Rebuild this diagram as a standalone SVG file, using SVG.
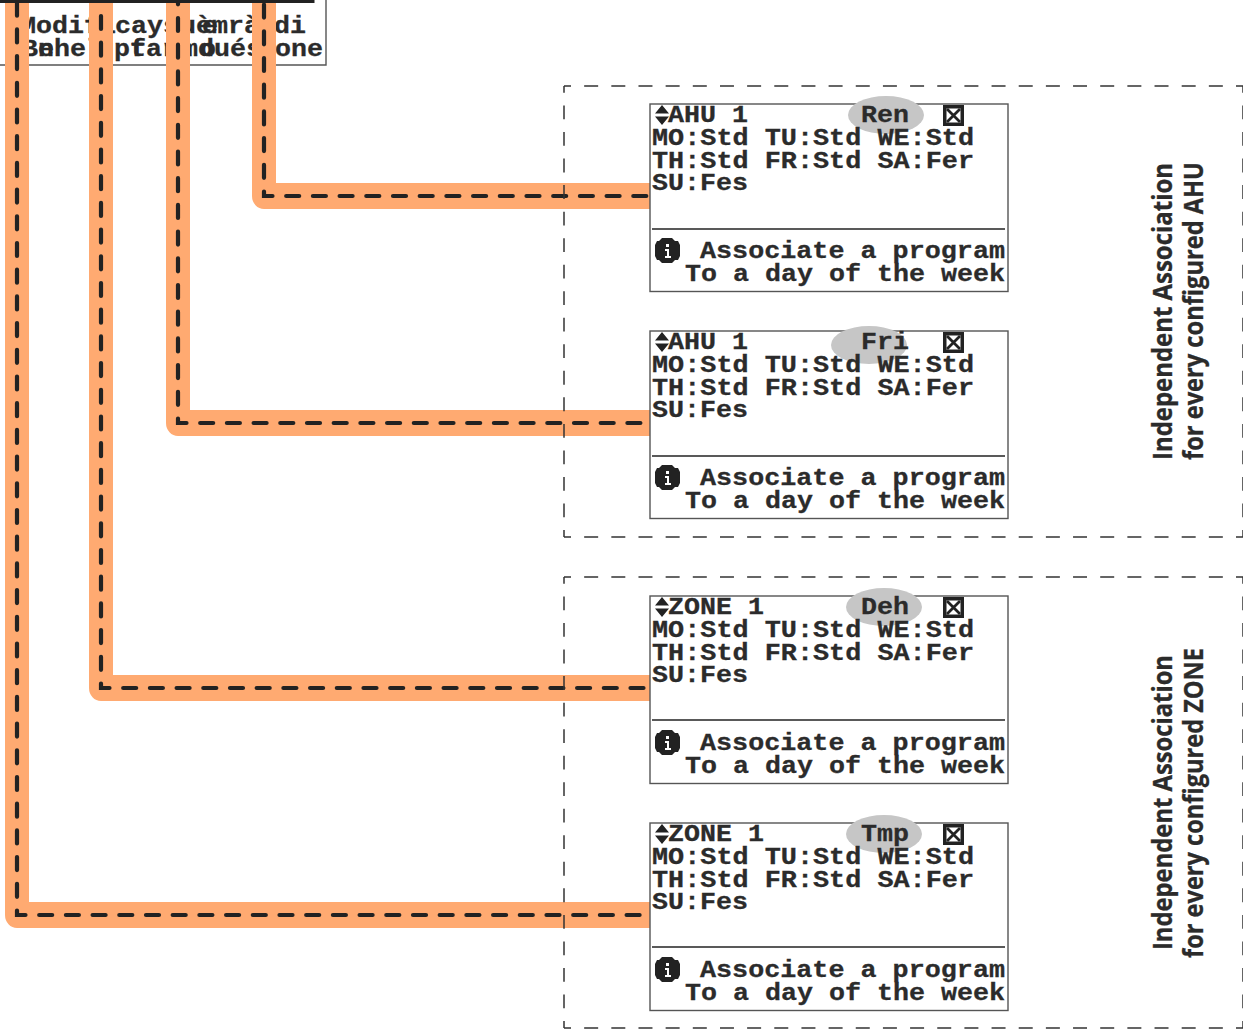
<svg xmlns="http://www.w3.org/2000/svg" width="1243" height="1029" viewBox="0 0 1243 1029">
<style>
.m{font-family:"Liberation Mono","DejaVu Sans Mono",monospace;font-weight:700;font-size:24px;fill:#2b2b2b;stroke:#2b2b2b;stroke-width:.3px}
.s{font-family:"Open Sans","Noto Sans",sans-serif;font-weight:700;font-size:26px;fill:#2b2b2b;stroke:#2b2b2b;stroke-width:.3px}
.scr{fill:#fff;stroke:#555;stroke-width:1.4}
.rule{stroke:#222;stroke-width:1.6;fill:none}
.band{fill:none;stroke:#ffaa71;stroke-linejoin:round}
.bv{stroke-width:24}
.bh{stroke-width:26}
.dash{fill:none;stroke:#222;stroke-width:4.2;stroke-linecap:round;stroke-dasharray:13 13.7}
.hd{fill:none;stroke:#333;stroke-width:1.5;stroke-dasharray:14 13.16;stroke-dashoffset:7}
.vd{fill:none;stroke:#333;stroke-width:1.5;stroke-dasharray:13.8 12.73;stroke-dashoffset:7}
.ell{fill:#c6c6c6}
.ic{fill:#222}
</style>
<g id="top-box">
<path d="M0 65H326V0" fill="none" stroke="#555" stroke-width="1.4"/>
<path d="M0 1.5H313V0M60 0V2M138 0V2M218 0V2" fill="none" stroke="#222" stroke-width="3"/>
<text class="m" x="20" y="33" textLength="96" lengthAdjust="spacingAndGlyphs">Modifi</text>
<text class="m" x="115" y="33" textLength="64" lengthAdjust="spacingAndGlyphs">cays</text>
<text class="m" x="180" y="33" textLength="80" lengthAdjust="spacingAndGlyphs">uèmrà</text>
<text class="m" x="202" y="33" textLength="16" lengthAdjust="spacingAndGlyphs">e</text>
<text class="m" x="274" y="33" textLength="32" lengthAdjust="spacingAndGlyphs">di</text>
<text class="m" x="22" y="56" textLength="80" lengthAdjust="spacingAndGlyphs">Behel</text>
<text class="m" x="38" y="56" textLength="16" lengthAdjust="spacingAndGlyphs">n</text>
<text class="m" x="114" y="56" textLength="64" lengthAdjust="spacingAndGlyphs">ptar</text>
<text class="m" x="130" y="56" textLength="16" lengthAdjust="spacingAndGlyphs">f</text>
<text class="m" x="182" y="56" textLength="80" lengthAdjust="spacingAndGlyphs">mdués</text>
<text class="m" x="200" y="56" textLength="16" lengthAdjust="spacingAndGlyphs">o</text>
<text class="m" x="275" y="56" textLength="48" lengthAdjust="spacingAndGlyphs">one</text>
</g>
<g id="connectors">
<path class="band bv" d="M17 915V3"/><path class="band bv" d="M101 688V3"/><path class="band bv" d="M178 423V3"/><path class="band bv" d="M264 196V3"/>
<path class="band bh" d="M650 915H17"/><path class="band bh" d="M650 688H101"/><path class="band bh" d="M650 423H178"/><path class="band bh" d="M650 196H264"/>
<path d="M5 915a12 13 0 0 0 12 13h12v-26H5zM89 688a12 13 0 0 0 12 13h12v-26H89zM166 423a12 13 0 0 0 12 13h12v-26h-24zM252 196a12 13 0 0 0 12 13h12v-26h-24z" fill="#ffaa71"/>
<path class="dash" stroke-dashoffset="16.3" d="M650 915H17V3"/>
<path class="dash" stroke-dashoffset="20.2" d="M650 688H101V3"/>
<path class="dash" stroke-dashoffset="17.1" d="M650 423H178V3"/>
<path class="dash" stroke-dashoffset="23" d="M650 196H264V3"/>
</g>
<g id="group-ahu">
<path class="hd" d="M564 86H1243"/><path class="hd" d="M564 537H1243"/>
<path class="vd" d="M564 86V537"/><path class="vd" d="M1243 86V537"/>
<text class="s" transform="translate(1172 460) rotate(-90)" textLength="297" lengthAdjust="spacingAndGlyphs">Independent Association</text>
<text class="s" transform="translate(1203 460) rotate(-90)" textLength="298" lengthAdjust="spacingAndGlyphs">for every configured AHU</text>
</g>
<g id="group-zone">
<path class="hd" d="M564 577H1243"/><path class="hd" d="M564 1028H1243"/>
<path class="vd" d="M564 577V1028"/><path class="vd" d="M1243 577V1028"/>
<text class="s" transform="translate(1172 950) rotate(-90)" textLength="295" lengthAdjust="spacingAndGlyphs">Independent Association</text>
<text class="s" transform="translate(1203 958) rotate(-90)" textLength="310" lengthAdjust="spacingAndGlyphs">for every configured ZONE</text>
</g>
<defs>
<g id="updown"><path class="ic" d="M655 113.5L662 105L669 113.5ZM655 116.5L662 125L669 116.5Z"/></g>
<g id="close"><rect class="ic" x="943" y="105" width="21" height="21"/><rect x="946.5" y="108.5" width="14" height="14" fill="#fff"/><path d="M947 109L960 122M960 109L947 122" stroke="#222" stroke-width="2.8"/></g>
<g id="info"><path class="ic" d="M662 238H672L675 241H678L680 245V256L678 260H675L672 263H662L659 260H657L655 256V245L657 241H659Z"/><path d="M666 244h3v3h-3zM665 249h4v7h2v2h-6v-2h2v-5h-2z" fill="#fff"/></g>
</defs>
<g id="screen-ren">
<rect class="scr" x="650" y="104" width="358" height="187.5"/>
<ellipse class="ell" cx="886" cy="115" rx="38" ry="19"/>
<use href="#updown"/><use href="#close"/><use href="#info"/>
<text class="m" x="668" y="122" textLength="80" lengthAdjust="spacingAndGlyphs">AHU 1</text>
<text class="m" x="861" y="122" textLength="48" lengthAdjust="spacingAndGlyphs">Ren</text>
<text class="m" x="652" y="145" textLength="322" lengthAdjust="spacingAndGlyphs">MO:Std TU:Std WE:Std</text>
<text class="m" x="652" y="168" textLength="322" lengthAdjust="spacingAndGlyphs">TH:Std FR:Std SA:Fer</text>
<text class="m" x="652" y="190" textLength="96" lengthAdjust="spacingAndGlyphs">SU:Fes</text>
<path class="rule" d="M652 229H1005"/>
<text class="m" x="700" y="258" textLength="305" lengthAdjust="spacingAndGlyphs">Associate a program</text>
<text class="m" x="685" y="281" textLength="320" lengthAdjust="spacingAndGlyphs">To a day of the week</text>
</g>
<g id="screen-fri" transform="translate(0 227)">
<rect class="scr" x="650" y="104" width="358" height="187.5"/>
<ellipse class="ell" cx="869" cy="118" rx="38" ry="19"/>
<use href="#updown"/><use href="#close"/><use href="#info"/>
<text class="m" x="668" y="122" textLength="80" lengthAdjust="spacingAndGlyphs">AHU 1</text>
<text class="m" x="861" y="122" textLength="48" lengthAdjust="spacingAndGlyphs">Fri</text>
<text class="m" x="652" y="145" textLength="322" lengthAdjust="spacingAndGlyphs">MO:Std TU:Std WE:Std</text>
<text class="m" x="652" y="168" textLength="322" lengthAdjust="spacingAndGlyphs">TH:Std FR:Std SA:Fer</text>
<text class="m" x="652" y="190" textLength="96" lengthAdjust="spacingAndGlyphs">SU:Fes</text>
<path class="rule" d="M652 229H1005"/>
<text class="m" x="700" y="258" textLength="305" lengthAdjust="spacingAndGlyphs">Associate a program</text>
<text class="m" x="685" y="281" textLength="320" lengthAdjust="spacingAndGlyphs">To a day of the week</text>
</g>
<g id="screen-deh" transform="translate(0 492)">
<rect class="scr" x="650" y="104" width="358" height="187.5"/>
<ellipse class="ell" cx="884" cy="115" rx="38" ry="19"/>
<use href="#updown"/><use href="#close"/><use href="#info"/>
<text class="m" x="668" y="122" textLength="96" lengthAdjust="spacingAndGlyphs">ZONE 1</text>
<text class="m" x="861" y="122" textLength="48" lengthAdjust="spacingAndGlyphs">Deh</text>
<text class="m" x="652" y="145" textLength="322" lengthAdjust="spacingAndGlyphs">MO:Std TU:Std WE:Std</text>
<text class="m" x="652" y="168" textLength="322" lengthAdjust="spacingAndGlyphs">TH:Std FR:Std SA:Fer</text>
<text class="m" x="652" y="190" textLength="96" lengthAdjust="spacingAndGlyphs">SU:Fes</text>
<path class="rule" d="M652 228H1005"/>
<text class="m" x="700" y="258" textLength="305" lengthAdjust="spacingAndGlyphs">Associate a program</text>
<text class="m" x="685" y="281" textLength="320" lengthAdjust="spacingAndGlyphs">To a day of the week</text>
</g>
<g id="screen-tmp" transform="translate(0 719)">
<rect class="scr" x="650" y="104" width="358" height="187.5"/>
<ellipse class="ell" cx="884" cy="115" rx="38" ry="19"/>
<use href="#updown"/><use href="#close"/><use href="#info"/>
<text class="m" x="668" y="122" textLength="96" lengthAdjust="spacingAndGlyphs">ZONE 1</text>
<text class="m" x="861" y="122" textLength="48" lengthAdjust="spacingAndGlyphs">Tmp</text>
<text class="m" x="652" y="145" textLength="322" lengthAdjust="spacingAndGlyphs">MO:Std TU:Std WE:Std</text>
<text class="m" x="652" y="168" textLength="322" lengthAdjust="spacingAndGlyphs">TH:Std FR:Std SA:Fer</text>
<text class="m" x="652" y="190" textLength="96" lengthAdjust="spacingAndGlyphs">SU:Fes</text>
<path class="rule" d="M652 228H1005"/>
<text class="m" x="700" y="258" textLength="305" lengthAdjust="spacingAndGlyphs">Associate a program</text>
<text class="m" x="685" y="281" textLength="320" lengthAdjust="spacingAndGlyphs">To a day of the week</text>
</g>
</svg>
